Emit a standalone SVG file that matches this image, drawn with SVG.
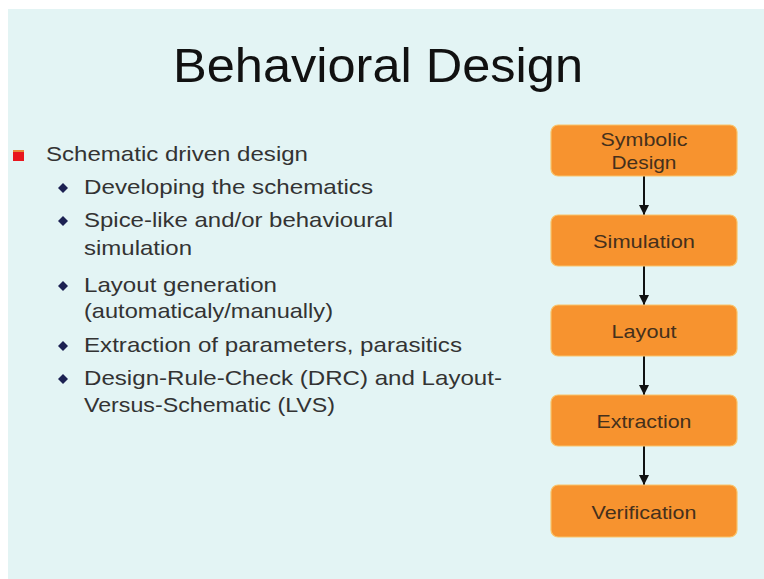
<svg xmlns="http://www.w3.org/2000/svg" width="764" height="579" viewBox="0 0 764 579">
<defs>
<style>
.title{font-family:"Liberation Sans",Arial,sans-serif;font-size:49px;fill:#111;}
.main{font-family:"Liberation Sans",Arial,sans-serif;font-size:21px;fill:#333;}
.box{fill:#f7932f;stroke:#f9c46a;stroke-width:1.2;}
.lbl{font-family:"Liberation Sans",Arial,sans-serif;font-size:19px;fill:#45301c;text-anchor:middle;}
.dia{fill:#1c2152;}
.conn{stroke:#111;stroke-width:2;fill:none;}
</style>
<marker id="ah" viewBox="0 0 10 10" refX="10" refY="5" markerWidth="10" markerHeight="10" markerUnits="userSpaceOnUse" orient="auto">
<path d="M0,0 L10,5 L0,10 z" fill="#111"/>
</marker>
</defs>
<rect x="0" y="0" width="764" height="579" fill="#ffffff"/>
<rect x="8" y="9" width="756" height="570" fill="#e3f4f4"/>
<text class="title" x="378" y="82" text-anchor="middle" textLength="410" lengthAdjust="spacingAndGlyphs">Behavioral Design</text>
<g id="bullets">
<rect x="13" y="150" width="11" height="11" fill="#e8161e"/>
<rect x="13" y="150" width="11" height="2" fill="#e88a3a"/>
<text class="main" x="46" y="161" textLength="262" lengthAdjust="spacingAndGlyphs">Schematic driven design</text>
<path class="dia" d="M63,183 L68,188 L63,193 L58,188 z"/>
<text class="main" x="84" y="194" textLength="289" lengthAdjust="spacingAndGlyphs">Developing the schematics</text>
<path class="dia" d="M63,216 L68,221 L63,226 L58,221 z"/>
<text class="main" x="84" y="227" textLength="309" lengthAdjust="spacingAndGlyphs">Spice-like and/or behavioural</text>
<text class="main" x="84" y="255" textLength="108" lengthAdjust="spacingAndGlyphs">simulation</text>
<path class="dia" d="M63,281 L68,286 L63,291 L58,286 z"/>
<text class="main" x="84" y="292" textLength="193" lengthAdjust="spacingAndGlyphs">Layout generation</text>
<text class="main" x="84" y="318" textLength="249" lengthAdjust="spacingAndGlyphs">(automaticaly/manually)</text>
<path class="dia" d="M63,341 L68,346 L63,351 L58,346 z"/>
<text class="main" x="84" y="352" textLength="378" lengthAdjust="spacingAndGlyphs">Extraction of parameters, parasitics</text>
<path class="dia" d="M63,374 L68,379 L63,384 L58,379 z"/>
<text class="main" x="84" y="385" textLength="418" lengthAdjust="spacingAndGlyphs">Design-Rule-Check (DRC) and Layout-</text>
<text class="main" x="84" y="412" textLength="251" lengthAdjust="spacingAndGlyphs">Versus-Schematic (LVS)</text>
</g>
<g id="connectors">
<line class="conn" x1="644" y1="176" x2="644" y2="215" marker-end="url(#ah)"/>
<line class="conn" x1="644" y1="266" x2="644" y2="305" marker-end="url(#ah)"/>
<line class="conn" x1="644" y1="356" x2="644" y2="395" marker-end="url(#ah)"/>
<line class="conn" x1="644" y1="446" x2="644" y2="485" marker-end="url(#ah)"/>
</g>
<g id="symbolic">
<rect class="box" x="551" y="125" width="186" height="51" rx="7"/>
<text class="lbl" x="644" y="146" textLength="87" lengthAdjust="spacingAndGlyphs">Symbolic</text>
<text class="lbl" x="644" y="169" textLength="65" lengthAdjust="spacingAndGlyphs">Design</text>
</g>
<g id="simulation">
<rect class="box" x="551" y="215" width="186" height="51" rx="7"/>
<text class="lbl" x="644" y="248" textLength="102" lengthAdjust="spacingAndGlyphs">Simulation</text>
</g>
<g id="layout">
<rect class="box" x="551" y="305" width="186" height="51" rx="7"/>
<text class="lbl" x="644" y="338" textLength="65" lengthAdjust="spacingAndGlyphs">Layout</text>
</g>
<g id="extraction">
<rect class="box" x="551" y="395" width="186" height="51" rx="7"/>
<text class="lbl" x="644" y="428" textLength="95" lengthAdjust="spacingAndGlyphs">Extraction</text>
</g>
<g id="verification">
<rect class="box" x="551" y="485" width="186" height="52" rx="7"/>
<text class="lbl" x="644" y="519" textLength="105" lengthAdjust="spacingAndGlyphs">Verification</text>
</g>
</svg>
